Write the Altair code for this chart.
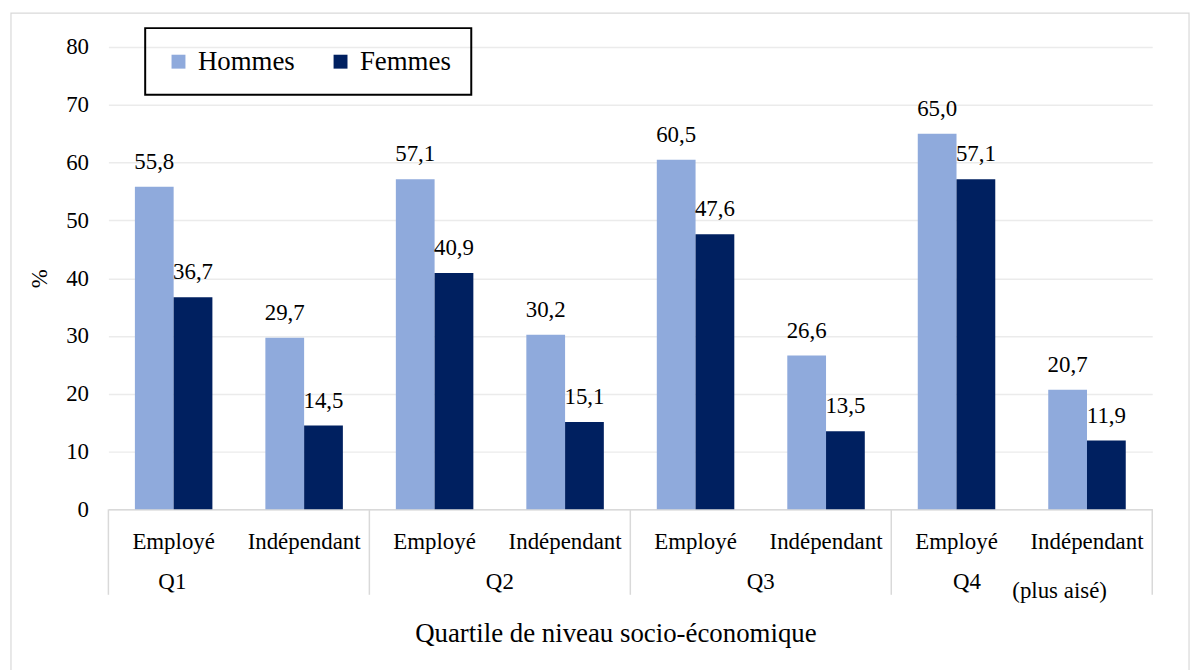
import altair as alt
import pandas as pd

quartiles = ["Q1", "Q2", "Q3", "Q4"]
statuts = ["Employé", "Indépendant"]
sexes = ["Hommes", "Femmes"]
hommes = [55.8, 29.7, 57.1, 30.2, 60.5, 26.6, 65.0, 20.7]
femmes = [36.7, 14.5, 40.9, 15.1, 47.6, 13.5, 57.1, 11.9]
couleurs = ["#8FAADC", "#002060"]

# quartile group labels (position on a 0..8 sub-category scale)
q_labels = ["Q1", "Q2", "Q3", "Q4"]
q_pos = [0.49, 3.0, 5.0, 6.58]
note_label = ["(plus aisé)"]
note_pos = [7.29]
separators = [0, 2, 4, 6, 8]

FONT = "Liberation Serif"

cats = [f"{q}|{s}" for q in quartiles for s in statuts]
rows = []
for i, c in enumerate(cats):
    rows.append({"cat": c, "sexe": "Hommes", "val": hommes[i]})
    rows.append({"cat": c, "sexe": "Femmes", "val": femmes[i]})
df = pd.DataFrame(rows)

x_band = alt.X(
    "cat:N",
    sort=cats,
    scale=alt.Scale(paddingInner=0.406, paddingOuter=0.203),
    axis=alt.Axis(
        title="Quartile de niveau socio-économique",
        labelExpr="split(datum.value, '|')[1]",
        labelAngle=0,
        labelFont=FONT,
        labelFontSize=23,
        labelColor="#000000",
        labelPadding=21,
        ticks=False,
        domainColor="#d9d9d9",
        domainWidth=1.5,
        titleFont=FONT,
        titleFontSize=27,
        titleFontWeight="normal",
        titleColor="#000000",
        titlePadding=68,
        titleX=510,
    ),
)
y_enc = alt.Y(
    "val:Q",
    scale=alt.Scale(domain=[0, 80]),
    axis=alt.Axis(
        title="%",
        values=list(range(0, 81, 10)),
        labelFont=FONT,
        labelFontSize=23,
        labelColor="#000000",
        labelPadding=20,
        ticks=False,
        domain=False,
        gridColor="#ebebeb",
        gridWidth=1.5,
        titleFont=FONT,
        titleFontSize=23,
        titleFontWeight="normal",
        titleColor="#000000",
        titlePadding=14,
    ),
)

bars = alt.Chart(df).mark_bar().encode(
    x=x_band,
    xOffset=alt.XOffset("sexe:N", sort=sexes),
    y=y_enc,
    color=alt.Color(
        "sexe:N",
        sort=sexes,
        scale=alt.Scale(domain=sexes, range=couleurs),
        legend=alt.Legend(
            title=None,
            orient="none",
            legendX=37,
            legendY=-19,
            direction="horizontal",
            symbolType="square",
            symbolSize=196,
            symbolStrokeWidth=0,
            labelFont=FONT,
            labelFontSize=27,
            labelColor="#000000",
            labelOffset=6,
            columnPadding=32,
            padding=20,
            strokeColor="#000000",
        ),
    ),
)

labels = alt.Chart(df).transform_calculate(
    lab="replace(format(datum.val, '.1f'), '.', ',')"
).mark_text(
    font=FONT, fontSize=23, color="#000000", baseline="bottom", dy=-13
).encode(
    x=alt.X("cat:N", sort=cats),
    xOffset=alt.XOffset("sexe:N", sort=sexes),
    y=alt.Y("val:Q"),
    text="lab:N",
)

data_layer = alt.layer(bars, labels)

lin = alt.Scale(domain=[0, 8])
sep_df = pd.DataFrame({"p": separators})
seps = alt.Chart(sep_df).mark_rule(color="#d9d9d9", strokeWidth=1.5).encode(
    x=alt.X("p:Q", scale=lin, axis=None),
    y=alt.value(465),
    y2=alt.value(551),
)

q_df = pd.DataFrame({"lab": q_labels, "p": q_pos})
qtext = alt.Chart(q_df).mark_text(
    font=FONT, fontSize=23, color="#000000", baseline="middle"
).encode(
    x=alt.X("p:Q", scale=lin, axis=None),
    y=alt.value(538),
    text="lab:N",
)

n_df = pd.DataFrame({"lab": note_label, "p": note_pos})
ntext = alt.Chart(n_df).mark_text(
    font=FONT, fontSize=23, color="#000000", baseline="middle"
).encode(
    x=alt.X("p:Q", scale=lin, axis=None),
    y=alt.value(547),
    text="lab:N",
)

frame = alt.Chart(sep_df.head(1)).mark_rect(
    fillOpacity=0, stroke="#d9d9d9", strokeWidth=1.2
).encode(
    x=alt.value(-98), x2=alt.value(1087), y=alt.value(-34), y2=alt.value(720)
)

annot = alt.layer(seps, qtext, ntext, frame)

chart = alt.layer(data_layer, annot).resolve_scale(x="independent").properties(
    width=1050,
    height=465,
    padding={"left": 2, "top": 2, "right": 2, "bottom": 2},
).configure_view(stroke=None).configure_legend(strokeWidth=2)

chart.save("out.html", embed_options={"renderer": "svg", "actions": False})
